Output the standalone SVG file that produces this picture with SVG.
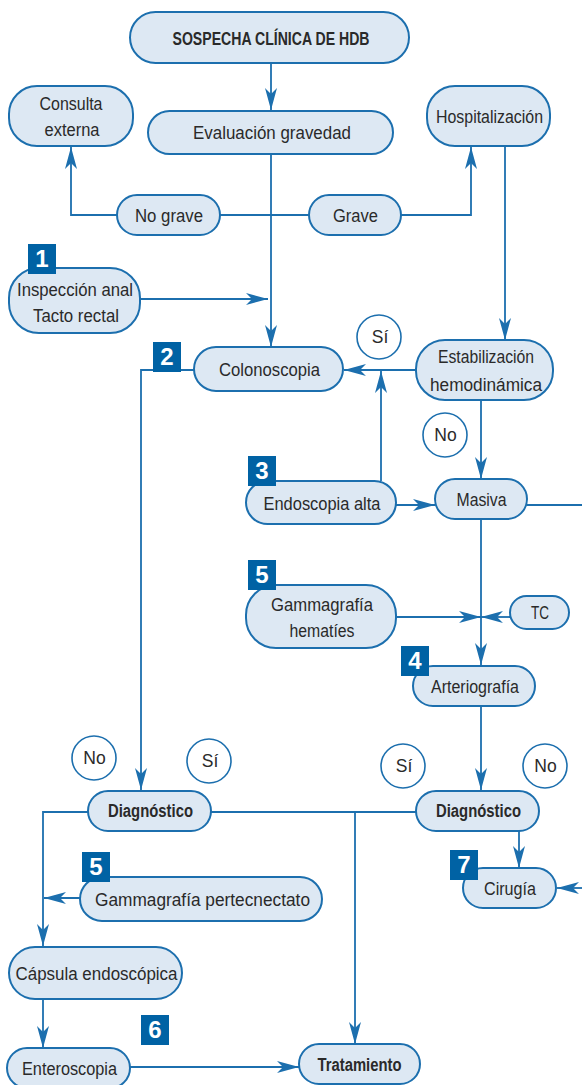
<svg xmlns="http://www.w3.org/2000/svg" width="582" height="1085" viewBox="0 0 582 1085">
<style>
.n{fill:#dde8f3;stroke:#1c6fae;stroke-width:2}
.c{fill:#fff;stroke:#1c6fae;stroke-width:1.6}
.b{fill:#0062a4}
.t{font-family:"Liberation Sans",Arial,sans-serif;font-size:17.5px;fill:#2a2a2a;text-anchor:middle}
.tb{font-weight:bold}
.d{font-family:"Liberation Sans",Arial,sans-serif;font-weight:bold;font-size:24px;fill:#fff;text-anchor:middle}
.l{fill:none;stroke:#1c6fae;stroke-width:1.8}
.a{marker-end:url(#ah)}
</style>
<defs>
<marker id="ah" viewBox="0 0 22 12" refX="22" refY="6" markerWidth="22" markerHeight="12" markerUnits="userSpaceOnUse" orient="auto">
<path d="M0,0 L22,6 L0,12 L6,6 Z" fill="#1c6fae"/>
</marker>
</defs>
<rect width="582" height="1085" fill="#fff"/>
<g id="connectors">
<path class="l a" d="M271,63 V110"/>
<path class="l a" d="M117,215 H71 V147"/>
<path class="l" d="M220,215 H309"/>
<path class="l a" d="M401,215 H471 V147"/>
<path class="l a" d="M271,154 V347"/>
<path class="l a" d="M140,299 H268"/>
<path class="l a" d="M505,146 V340"/>
<path class="l a" d="M416,370 H344"/>
<path class="l a" d="M381,481 V371"/>
<path class="l a" d="M481,400 V479"/>
<path class="l a" d="M396,505 H435"/>
<path class="l" d="M527,505 H582"/>
<path class="l a" d="M481,519 V665"/>
<path class="l a" d="M396,617 H481"/>
<path class="l a" d="M510,617 H481"/>
<path class="l a" d="M194,370 H141 V790"/>
<path class="l a" d="M481,706 V790"/>
<path class="l a" d="M88,812 H43 V946"/>
<path class="l" d="M211,812 H416"/>
<path class="l a" d="M355,812 V1044"/>
<path class="l a" d="M519,831 V868"/>
<path class="l a" d="M582,888 H557"/>
<path class="l a" d="M80,898 H44"/>
<path class="l a" d="M43,999 V1048"/>
<path class="l a" d="M130,1067 H299"/>
</g>
<g id="sospecha"><rect class="n" x="130" y="12" width="279" height="51" rx="25.5"/><text class="t tb" x="271" y="45" textLength="197" lengthAdjust="spacingAndGlyphs">SOSPECHA CLÍNICA DE HDB</text></g>
<g id="consulta"><rect class="n" x="9" y="86" width="124" height="60" rx="28"/><text class="t" x="71" y="110" textLength="63" lengthAdjust="spacingAndGlyphs">Consulta</text><text class="t" x="72" y="136" textLength="55" lengthAdjust="spacingAndGlyphs">externa</text></g>
<g id="evaluacion"><rect class="n" x="148" y="111" width="245" height="43" rx="21.5"/><text class="t" x="272" y="138.5" textLength="158" lengthAdjust="spacingAndGlyphs">Evaluación gravedad</text></g>
<g id="hospitalizacion"><rect class="n" x="427" y="86" width="123" height="60" rx="28"/><text class="t" x="489.5" y="123" textLength="107" lengthAdjust="spacingAndGlyphs">Hospitalización</text></g>
<g id="nograve"><rect class="n" x="117" y="195" width="103" height="40" rx="20"/><text class="t" x="169" y="222" textLength="68" lengthAdjust="spacingAndGlyphs">No grave</text></g>
<g id="grave"><rect class="n" x="309" y="195" width="92" height="40" rx="20"/><text class="t" x="355.5" y="222" textLength="45" lengthAdjust="spacingAndGlyphs">Grave</text></g>
<g id="inspeccion"><rect class="n" x="9" y="268" width="131" height="65" rx="30"/><text class="t" x="75" y="296" textLength="116" lengthAdjust="spacingAndGlyphs">Inspección anal</text><text class="t" x="76" y="322" textLength="86" lengthAdjust="spacingAndGlyphs">Tacto rectal</text></g>
<g id="colonoscopia"><rect class="n" x="194" y="347" width="149" height="44" rx="22"/><text class="t" x="269.5" y="375.5" textLength="101" lengthAdjust="spacingAndGlyphs">Colonoscopia</text></g>
<g id="estabilizacion"><rect class="n" x="416" y="340" width="137" height="60" rx="29"/><text class="t" x="486" y="363" textLength="96" lengthAdjust="spacingAndGlyphs">Estabilización</text><text class="t" x="486" y="391" textLength="112" lengthAdjust="spacingAndGlyphs">hemodinámica</text></g>
<g id="endoscopia"><rect class="n" x="246" y="481" width="150" height="43" rx="21.5"/><text class="t" x="322" y="509.5" textLength="117" lengthAdjust="spacingAndGlyphs">Endoscopia alta</text></g>
<g id="masiva"><rect class="n" x="435" y="479" width="92" height="40" rx="20"/><text class="t" x="481.5" y="506" textLength="50" lengthAdjust="spacingAndGlyphs">Masiva</text></g>
<g id="gammahematies"><rect class="n" x="246" y="585" width="150" height="63" rx="30"/><text class="t" x="322" y="611" textLength="102" lengthAdjust="spacingAndGlyphs">Gammagrafía</text><text class="t" x="322" y="637" textLength="65" lengthAdjust="spacingAndGlyphs">hematíes</text></g>
<g id="tc"><rect class="n" x="510" y="596" width="59" height="33" rx="16.5"/><text class="t" x="540" y="619" textLength="18" lengthAdjust="spacingAndGlyphs">TC</text></g>
<g id="arteriografia"><rect class="n" x="413" y="666" width="122" height="40" rx="20"/><text class="t" x="475" y="692.5" textLength="88" lengthAdjust="spacingAndGlyphs">Arteriografía</text></g>
<g id="diag1"><rect class="n" x="88" y="791" width="123" height="40" rx="20"/><text class="t tb" x="150.5" y="817" textLength="85" lengthAdjust="spacingAndGlyphs">Diagnóstico</text></g>
<g id="diag2"><rect class="n" x="416" y="791" width="123" height="40" rx="20"/><text class="t tb" x="478.5" y="817" textLength="85" lengthAdjust="spacingAndGlyphs">Diagnóstico</text></g>
<g id="gammapertec"><rect class="n" x="80" y="877" width="242" height="44" rx="22"/><text class="t" x="202.5" y="905.5" textLength="215" lengthAdjust="spacingAndGlyphs">Gammagrafía pertecnectato</text></g>
<g id="cirugia"><rect class="n" x="463" y="868" width="93" height="40" rx="20"/><text class="t" x="510" y="894.5" textLength="52" lengthAdjust="spacingAndGlyphs">Cirugía</text></g>
<g id="capsula"><rect class="n" x="9" y="947" width="173" height="52" rx="26"/><text class="t" x="96.5" y="979.5" textLength="162" lengthAdjust="spacingAndGlyphs">Cápsula endoscópica</text></g>
<g id="enteroscopia"><rect class="n" x="7" y="1048" width="123" height="40" rx="20"/><text class="t" x="69.5" y="1074.5" textLength="95" lengthAdjust="spacingAndGlyphs">Enteroscopia</text></g>
<g id="tratamiento"><rect class="n" x="299" y="1044" width="121" height="40" rx="20"/><text class="t tb" x="359.5" y="1070.5" textLength="84" lengthAdjust="spacingAndGlyphs">Tratamiento</text></g>
<g id="circles">
<g id="si1"><circle class="c" cx="379" cy="337" r="22"/><text class="t" x="380" y="343">Sí</text></g>
<g id="no1"><circle class="c" cx="445" cy="435" r="22"/><text class="t" x="445.5" y="441">No</text></g>
<g id="no2"><circle class="c" cx="94" cy="758" r="22"/><text class="t" x="94.5" y="764">No</text></g>
<g id="si2"><circle class="c" cx="209" cy="761" r="22"/><text class="t" x="210" y="767">Sí</text></g>
<g id="si3"><circle class="c" cx="403" cy="766" r="22"/><text class="t" x="404" y="772">Sí</text></g>
<g id="no3"><circle class="c" cx="545" cy="766" r="22"/><text class="t" x="545.5" y="772">No</text></g>
</g>
<g id="badges">
<g id="b1"><rect class="b" x="28" y="244" width="28" height="30"/><text class="d" x="42" y="267">1</text></g>
<g id="b2"><rect class="b" x="153" y="342" width="28" height="30"/><text class="d" x="167" y="365">2</text></g>
<g id="b3"><rect class="b" x="248" y="456" width="28" height="30"/><text class="d" x="262" y="479">3</text></g>
<g id="b5a"><rect class="b" x="248" y="560" width="28" height="30"/><text class="d" x="262" y="583">5</text></g>
<g id="b4"><rect class="b" x="401" y="646" width="28" height="30"/><text class="d" x="415" y="669">4</text></g>
<g id="b5b"><rect class="b" x="82" y="852" width="28" height="30"/><text class="d" x="96" y="875">5</text></g>
<g id="b7"><rect class="b" x="450" y="850" width="28" height="30"/><text class="d" x="464" y="873">7</text></g>
<g id="b6"><rect class="b" x="141" y="1015" width="28" height="30"/><text class="d" x="155" y="1038">6</text></g>
</g>
</svg>
